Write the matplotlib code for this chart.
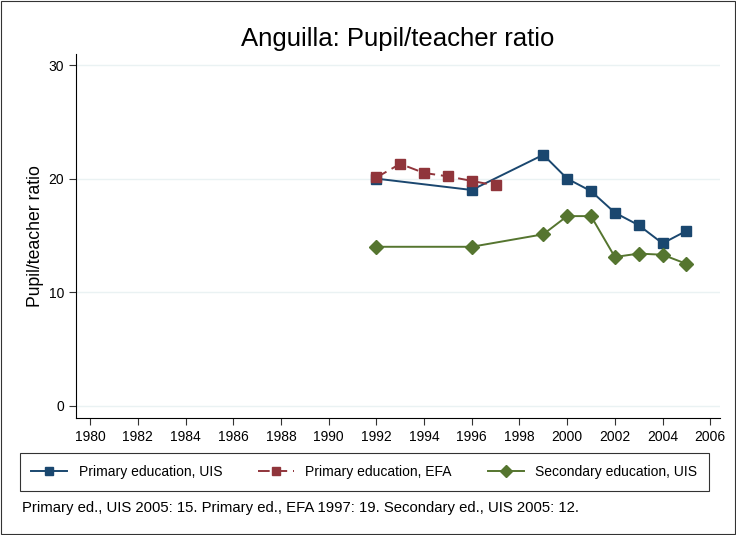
import matplotlib.pyplot as plt
from matplotlib.patches import Rectangle

plt.rcParams['font.family'] = ['Liberation Sans', 'DejaVu Sans']

# ----- Data -----
uis_years = [1992, 1996, 1999, 2000, 2001, 2002, 2003, 2004, 2005]
uis_ratio = [20.0, 19.0, 22.1, 20.0, 18.9, 17.0, 15.9, 14.3, 15.4]

efa_years = [1992, 1993, 1994, 1995, 1996, 1997]
efa_ratio = [20.1, 21.3, 20.5, 20.2, 19.8, 19.4]

sec_years = [1992, 1996, 1999, 2000, 2001, 2002, 2003, 2004, 2005]
sec_ratio = [14.0, 14.0, 15.1, 16.7, 16.7, 13.1, 13.4, 13.3, 12.5]

x_ticks = list(range(1980, 2007, 2))
y_ticks = [0, 10, 20, 30]

# ----- Plot -----
fig = plt.figure(figsize=(7.36, 5.35), dpi=100)
ax = fig.add_axes([0.103, 0.219, 0.875, 0.680])

ax.plot(uis_years, uis_ratio, color='#1a476f', marker='s', markersize=7,
        linewidth=1.4, label='Primary education, UIS', zorder=3)
ax.plot(efa_years, efa_ratio, color='#90353b', marker='s', markersize=7,
        linewidth=1.4, dashes=(6, 3), label='Primary education, EFA', zorder=3)
ax.plot(sec_years, sec_ratio, color='#55752f', marker='D', markersize=7,
        linewidth=1.4, label='Secondary education, UIS', zorder=3)

ax.set_xlim(1979.4, 2006.4)
ax.set_ylim(-1.06, 30.97)
ax.set_xticks(x_ticks)
ax.set_yticks(y_ticks)
ax.grid(axis='y', color='#eaf2f3', linewidth=1.0)
ax.set_axisbelow(True)
for side in ['top', 'right']:
    ax.spines[side].set_visible(False)
ax.tick_params(labelsize=10, length=5, color='#333333')
ax.set_ylabel('Pupil/teacher ratio', fontsize=12.7, labelpad=3)
ax.set_title('Anguilla: Pupil/teacher ratio', fontsize=18.5, pad=6)

# -- Legend --
leg = fig.legend(loc='center', bbox_to_anchor=(0.495, 0.118), ncol=3,
                 fontsize=10, frameon=True, fancybox=False, edgecolor='black',
                 handlelength=2.6, columnspacing=2.6, borderpad=0.85,
                 markerscale=0.85)
leg.get_frame().set_linewidth(0.8)

fig.text(0.03, 0.05, 'Primary ed., UIS 2005: 15. Primary ed., EFA 1997: 19. '
         'Secondary ed., UIS 2005: 12.', fontsize=10.7, va='center')

fig.patches.append(Rectangle((0.002, 0.002), 0.996, 0.996, transform=fig.transFigure,
                             fill=False, edgecolor='#333333', linewidth=0.8))

plt.savefig('out.png', dpi=100, facecolor='white')
